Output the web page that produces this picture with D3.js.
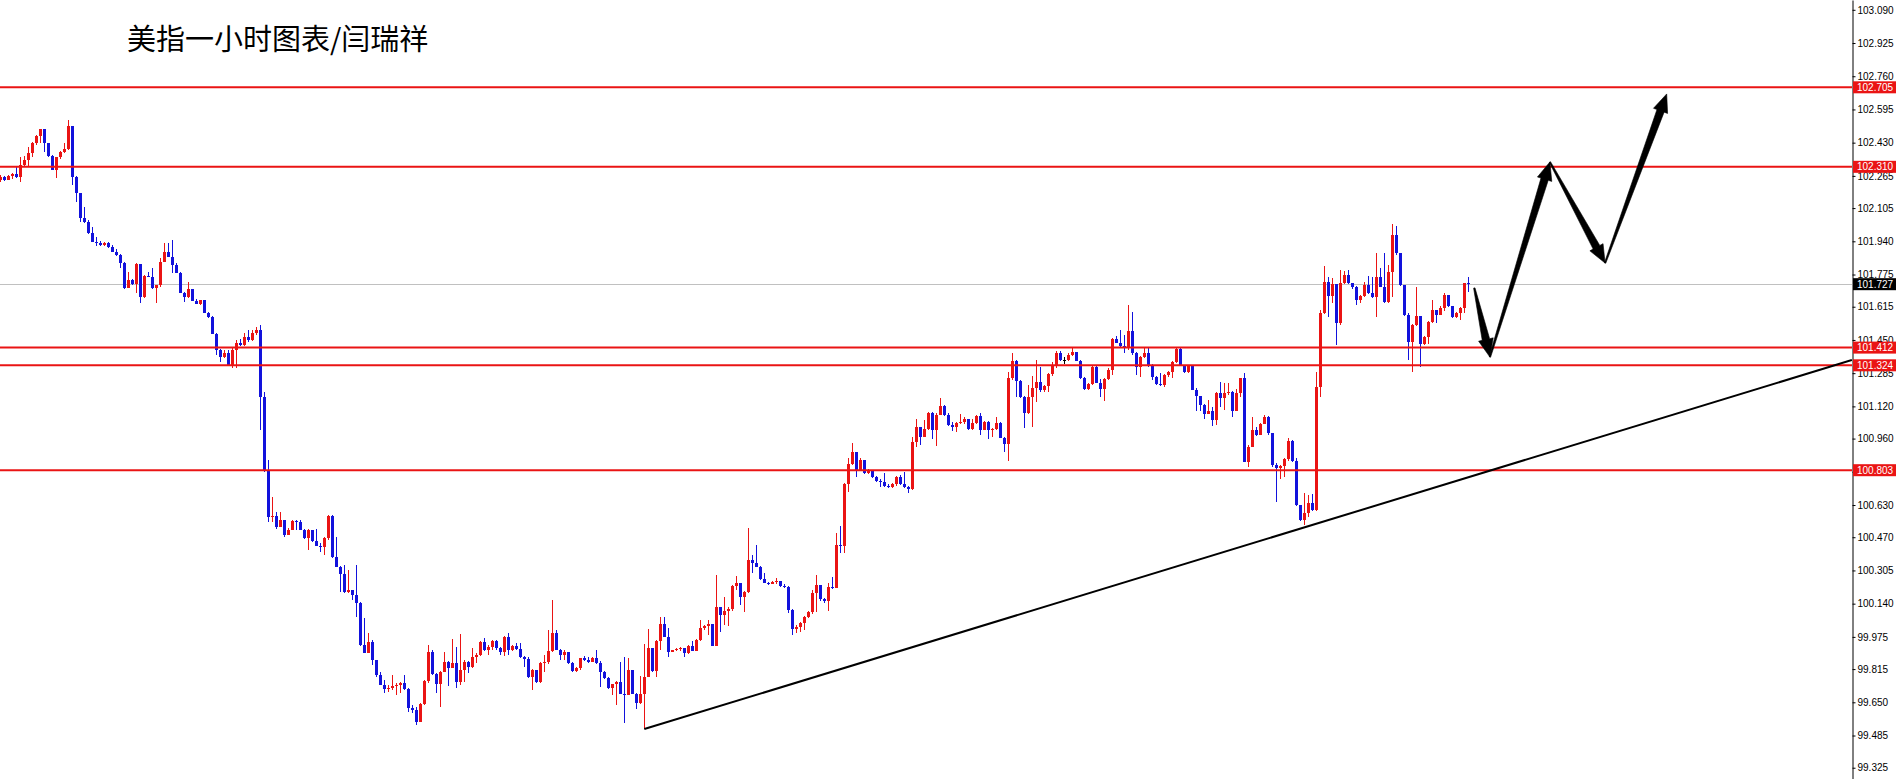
<!DOCTYPE html>
<html><head><meta charset="utf-8">
<script src="https://cdn.jsdelivr.net/npm/d3@7"></script>
<style>html,body{margin:0;padding:0;background:#fff;overflow:hidden}</style>
</head><body><svg id="c" width="1899" height="779"></svg>
<script>
const title = "美指一小时图表/闫瑞祥";
const firstOpen = 102.245;
const closes = [
102.259,102.245,102.264,102.274,102.259,102.319,102.344,102.379,102.428,102.463,
102.498,102.428,102.364,102.294,102.359,102.384,102.398,102.513,102.259,102.180,
102.056,102.036,101.981,101.936,101.931,101.921,101.931,101.911,101.887,101.872,
101.832,101.708,101.748,101.728,101.827,101.663,101.767,101.762,101.708,101.723,
101.837,101.887,101.862,101.822,101.782,101.683,101.663,101.703,101.643,101.628,
101.648,101.584,101.564,101.479,101.400,101.365,101.385,101.325,101.400,101.435,
101.425,101.465,101.450,101.484,101.499,101.167,100.804,100.571,100.576,100.521,
100.556,100.481,100.506,100.551,100.546,100.506,100.466,100.506,100.451,100.426,
100.421,100.466,100.576,100.372,100.322,100.287,100.198,100.208,100.183,100.143,
99.934,99.895,99.949,99.860,99.785,99.736,99.716,99.721,99.731,99.736,
99.746,99.716,99.622,99.612,99.552,99.642,99.756,99.900,99.790,99.741,
99.800,99.850,99.820,99.845,99.751,99.810,99.850,99.825,99.875,99.885,
99.949,99.910,99.924,99.954,99.919,99.900,99.974,99.910,99.929,99.915,
99.875,99.865,99.775,99.810,99.751,99.845,99.850,99.905,99.994,99.910,
99.885,99.900,99.845,99.805,99.820,99.870,99.860,99.850,99.870,99.845,
99.800,99.771,99.721,99.741,99.751,99.691,99.686,99.810,99.691,99.646,
99.691,99.775,99.919,99.805,99.954,100.039,99.974,99.900,99.910,99.915,
99.919,99.895,99.929,99.905,99.959,100.019,100.029,100.039,99.929,100.123,
100.084,100.103,100.113,100.228,100.242,100.173,100.198,100.357,100.342,100.322,
100.262,100.242,100.237,100.247,100.252,100.228,100.223,100.108,100.014,100.024,
100.044,100.074,100.098,100.193,100.232,100.163,100.153,100.223,100.218,100.431,
100.426,100.734,100.834,100.893,100.804,100.854,100.789,100.804,100.769,100.749,
100.744,100.725,100.720,100.734,100.769,100.734,100.720,100.710,100.943,101.018,
100.968,101.008,101.087,101.003,101.077,101.122,101.077,101.027,101.018,101.037,
101.042,101.057,101.008,101.037,101.072,101.003,101.042,101.003,101.008,101.037,
100.963,100.933,101.261,101.345,101.246,101.167,101.087,101.167,101.211,101.241,
101.201,101.221,101.281,101.320,101.385,101.350,101.350,101.375,101.390,101.345,
101.261,101.206,101.231,101.316,101.236,101.206,101.256,101.301,101.455,101.435,
101.420,101.410,101.494,101.385,101.316,101.365,101.385,101.325,101.266,101.231,
101.226,101.276,101.291,101.340,101.405,101.320,101.291,101.320,101.201,101.172,
101.127,101.082,101.097,101.052,101.187,101.162,101.187,101.191,101.097,101.187,
101.261,100.844,100.918,101.003,100.978,101.032,101.067,100.988,100.829,100.814,
100.824,100.859,100.948,100.849,100.630,100.556,100.590,100.640,100.605,101.216,
101.584,101.738,101.668,101.728,101.534,101.733,101.772,101.733,101.713,101.648,
101.668,101.723,101.683,101.663,101.762,101.713,101.638,101.787,101.971,101.882,
101.723,101.574,101.440,101.524,101.569,101.430,101.465,101.539,101.599,101.574,
101.609,101.673,101.618,101.564,101.584,101.609,101.733,101.727];
const highs = [
102.269,102.264,102.269,102.279,102.309,102.359,102.364,102.408,102.433,102.468,
102.498,102.498,102.428,102.369,102.359,102.389,102.428,102.543,102.513,102.264,
102.180,102.111,102.046,102.011,101.961,101.941,101.936,101.936,101.921,101.902,
101.877,101.837,101.787,101.753,101.832,101.827,101.772,101.787,101.807,101.723,
101.857,101.931,101.931,101.946,101.832,101.787,101.688,101.738,101.703,101.653,
101.648,101.643,101.589,101.569,101.484,101.405,101.400,101.400,101.410,101.450,
101.455,101.484,101.499,101.499,101.514,101.524,101.191,100.854,100.670,100.595,
100.595,100.556,100.516,100.556,100.556,100.556,100.511,100.511,100.506,100.511,
100.441,100.471,100.581,100.581,100.471,100.327,100.332,100.307,100.208,100.332,
100.148,100.069,99.994,99.959,99.860,99.800,99.761,99.736,99.785,99.746,
99.751,99.785,99.721,99.637,99.627,99.646,99.761,99.934,99.910,99.795,
99.805,99.900,99.855,99.964,99.924,99.989,99.860,99.855,99.919,99.895,
99.954,99.969,99.934,99.959,99.959,99.924,99.979,99.994,99.934,99.944,
99.944,99.880,99.875,99.815,99.810,99.850,99.885,100.009,100.158,100.009,
99.915,99.910,99.900,99.850,99.825,99.870,99.880,99.875,99.875,99.910,
99.855,99.805,99.775,99.741,99.756,99.850,99.875,99.870,99.810,99.696,
99.780,99.939,100.014,99.919,99.959,100.074,100.074,100.019,99.910,99.919,
99.924,99.919,99.934,99.954,99.964,100.059,100.034,100.059,100.039,100.282,
100.123,100.173,100.123,100.232,100.277,100.242,100.203,100.516,100.381,100.431,
100.327,100.292,100.247,100.252,100.267,100.252,100.237,100.228,100.113,100.034,
100.049,100.079,100.103,100.208,100.282,100.232,100.168,100.242,100.272,100.491,
100.526,100.739,100.864,100.938,100.893,100.864,100.849,100.809,100.794,100.774,
100.759,100.789,100.734,100.739,100.774,100.779,100.794,100.725,100.968,101.057,
101.018,101.052,101.092,101.092,101.087,101.162,101.127,101.087,101.042,101.042,
101.082,101.067,101.042,101.057,101.077,101.087,101.047,101.047,101.013,101.067,
101.042,100.968,101.291,101.385,101.350,101.251,101.172,101.226,101.271,101.350,
101.316,101.226,101.286,101.340,101.395,101.395,101.365,101.385,101.410,101.390,
101.350,101.266,101.236,101.320,101.320,101.256,101.261,101.310,101.460,101.470,
101.499,101.474,101.623,101.589,101.390,101.370,101.410,101.410,101.330,101.271,
101.286,101.281,101.296,101.345,101.415,101.410,101.320,101.325,101.320,101.211,
101.172,101.132,101.152,101.117,101.191,101.241,101.236,101.236,101.196,101.206,
101.261,101.286,100.928,101.067,101.018,101.037,101.077,101.072,100.988,100.839,
100.829,100.864,100.963,100.953,100.864,100.630,100.690,100.680,100.685,101.291,
101.599,101.817,101.762,101.758,101.728,101.797,101.792,101.797,101.733,101.718,
101.673,101.738,101.767,101.762,101.882,101.807,101.882,101.822,102.026,102.016,
101.882,101.723,101.584,101.529,101.713,101.569,101.470,101.544,101.648,101.599,
101.618,101.683,101.673,101.618,101.589,101.613,101.733,101.762];
const lows = [
102.235,102.240,102.245,102.250,102.254,102.235,102.309,102.309,102.359,102.418,
102.428,102.384,102.359,102.294,102.254,102.349,102.379,102.394,102.220,102.135,
102.036,102.031,101.976,101.936,101.916,101.916,101.916,101.906,101.887,101.867,
101.807,101.703,101.708,101.723,101.683,101.633,101.658,101.762,101.703,101.633,
101.713,101.837,101.862,101.782,101.782,101.683,101.638,101.658,101.643,101.628,
101.623,101.584,101.559,101.479,101.375,101.340,101.360,101.320,101.310,101.310,
101.420,101.420,101.440,101.445,101.474,101.003,100.794,100.546,100.546,100.511,
100.521,100.471,100.481,100.506,100.506,100.506,100.461,100.406,100.446,100.426,
100.396,100.381,100.456,100.367,100.322,100.198,100.193,100.193,100.158,100.074,
99.929,99.895,99.895,99.835,99.775,99.736,99.696,99.701,99.711,99.686,
99.696,99.711,99.602,99.597,99.537,99.552,99.637,99.746,99.785,99.696,
99.627,99.800,99.731,99.820,99.721,99.736,99.751,99.795,99.820,99.845,
99.880,99.905,99.885,99.910,99.910,99.885,99.880,99.885,99.905,99.910,
99.870,99.825,99.771,99.711,99.746,99.746,99.800,99.840,99.900,99.910,
99.860,99.860,99.840,99.800,99.800,99.810,99.855,99.845,99.850,99.840,
99.726,99.766,99.716,99.686,99.637,99.691,99.547,99.686,99.691,99.617,
99.642,99.517,99.775,99.800,99.775,99.910,99.974,99.875,99.900,99.905,
99.905,99.875,99.890,99.905,99.905,99.954,100.009,99.984,99.929,99.929,
99.999,100.034,100.029,100.103,100.208,100.133,100.098,100.193,100.292,100.322,
100.257,100.242,100.232,100.237,100.237,100.223,100.218,100.093,99.984,99.994,
99.999,100.009,100.069,100.088,100.098,100.153,100.143,100.103,100.213,100.218,
100.391,100.391,100.695,100.829,100.769,100.804,100.784,100.784,100.764,100.744,
100.720,100.720,100.715,100.715,100.725,100.729,100.715,100.690,100.705,100.918,
100.928,100.968,101.003,100.958,100.923,101.077,101.072,101.022,100.998,100.993,
101.032,101.032,101.003,101.003,101.032,100.978,101.003,100.958,100.968,101.003,
100.963,100.893,100.849,101.251,101.167,101.162,101.013,101.082,101.018,101.142,
101.191,101.191,101.191,101.271,101.310,101.345,101.330,101.345,101.370,101.345,
101.256,101.201,101.201,101.226,101.236,101.167,101.147,101.251,101.276,101.435,
101.410,101.385,101.400,101.375,101.276,101.266,101.360,101.316,101.251,101.226,
101.221,101.216,101.266,101.261,101.335,101.320,101.286,101.286,101.201,101.097,
101.097,101.057,101.082,101.022,101.027,101.117,101.102,101.177,101.067,101.097,
101.167,100.844,100.819,100.918,100.973,100.978,101.032,100.978,100.819,100.645,
100.759,100.769,100.849,100.844,100.625,100.551,100.531,100.571,100.600,100.600,
101.167,101.579,101.564,101.633,101.425,101.524,101.728,101.728,101.703,101.623,
101.633,101.663,101.678,101.658,101.564,101.713,101.633,101.633,101.663,101.872,
101.718,101.569,101.350,101.291,101.519,101.316,101.425,101.430,101.534,101.534,
101.594,101.594,101.613,101.559,101.559,101.549,101.584,101.688];
const levels = [102.705, 102.310, 101.412, 101.324, 100.803];
const lastPrice = 101.727;
const tickValues = [103.090,102.925,102.760,102.595,102.430,102.265,102.105,101.940,101.775,101.615,101.450,101.285,101.120,100.960,100.795,100.630,100.470,100.305,100.140,99.975,99.815,99.650,99.485,99.325];
const trendLine = [[161, 99.517], [462.9, 101.350]];
const arrowPath = [[368.5,101.708],[372.4,101.365],[387.4,102.334],[401.2,101.832],[416.6,102.672]];

const W = 1899, H = 779, AXIS_X = 1852;
const RED = "#ea1414", BLUE = "#1212dc";
const FONT = "Liberation Sans, Arial, sans-serif";
const svg = d3.select("#c");
svg.append("rect").attr("width", W).attr("height", H).attr("fill", "#fff");

const x = d3.scaleLinear().domain([0, 1]).range([0.3, 4.3]);
const y = d3.scaleLinear().domain([103.1387, 99.2690]).range([0, H]);

svg.append("defs").append("clipPath").attr("id", "plot")
  .append("rect").attr("x", 0).attr("y", 0).attr("width", AXIS_X).attr("height", H);
const plot = svg.append("g").attr("clip-path", "url(#plot)");

// current price line
plot.append("line").attr("x1", 0).attr("x2", AXIS_X)
  .attr("y1", Math.round(y(lastPrice)) + 0.5).attr("y2", Math.round(y(lastPrice)) + 0.5)
  .attr("stroke", "#c0c0c0").attr("stroke-width", 1);

// candles
const data = closes.map((c, i) => ({ i, o: i === 0 ? firstOpen : closes[i - 1], c, h: highs[i], l: lows[i] }));
const color = d => d.c > d.o ? RED : (d.c < d.o ? BLUE : "#000");
const cg = plot.append("g").attr("shape-rendering", "crispEdges");
cg.selectAll("rect.w").data(data).join("rect").attr("class", "w")
  .attr("x", d => Math.round(x(d.i)))
  .attr("width", 1)
  .attr("y", d => Math.round(y(Math.max(d.h, d.o, d.c))))
  .attr("height", d => Math.max(1, Math.round(y(Math.min(d.l, d.o, d.c))) - Math.round(y(Math.max(d.h, d.o, d.c)))))
  .attr("fill", color);
cg.selectAll("rect.b").data(data).join("rect").attr("class", "b")
  .attr("x", d => Math.round(x(d.i)) - 1)
  .attr("width", 3)
  .attr("y", d => Math.round(y(Math.max(d.o, d.c))))
  .attr("height", d => Math.max(1, Math.round(y(Math.min(d.o, d.c))) - Math.round(y(Math.max(d.o, d.c)))))
  .attr("fill", color);

// horizontal levels
plot.selectAll("line.lv").data(levels).join("line").attr("class", "lv")
  .attr("x1", 0).attr("x2", AXIS_X)
  .attr("y1", d => y(d)).attr("y2", d => y(d))
  .attr("stroke", RED).attr("stroke-width", 2);

// trend line
plot.append("line")
  .attr("x1", x(trendLine[0][0])).attr("y1", y(trendLine[0][1]))
  .attr("x2", x(trendLine[1][0])).attr("y2", y(trendLine[1][1]))
  .attr("stroke", "#000").attr("stroke-width", 2);

// arrows (tapered shafts with heads)
for (let k = 0; k < arrowPath.length - 1; k++) {
  const sx = x(arrowPath[k][0]), sy = y(arrowPath[k][1]);
  const tx = x(arrowPath[k + 1][0]), ty = y(arrowPath[k + 1][1]);
  const len = Math.hypot(tx - sx, ty - sy);
  const ux = (tx - sx) / len, uy = (ty - sy) / len;
  const nx = -uy, ny = ux;
  const hl = 18, hw = 7.5, sw0 = 0.7, sw1 = 3.8;
  const bx = tx - ux * hl, by = ty - uy * hl;
  const pts = [
    [sx + nx * sw0, sy + ny * sw0], [bx + nx * sw1, by + ny * sw1], [bx + nx * hw, by + ny * hw],
    [tx, ty],
    [bx - nx * hw, by - ny * hw], [bx - nx * sw1, by - ny * sw1], [sx - nx * sw0, sy - ny * sw0]
  ];
  plot.append("path").attr("d", d3.line()(pts) + "Z").attr("fill", "#000").attr("stroke", "#000").attr("stroke-width", 0.6);
}

// right axis
const axis = d3.axisRight(y).tickValues(tickValues).tickFormat(d3.format(".3f")).tickSize(3).tickSizeOuter(0).tickPadding(2);
const ag = svg.append("g").attr("transform", `translate(${AXIS_X + 0.5},0)`).call(axis);
ag.select(".domain").attr("stroke", "#000");
ag.selectAll(".tick line").attr("stroke", "#000");
ag.selectAll(".tick text").attr("fill", "#000").style("font-family", FONT).style("font-size", "10px");

// price boxes
const boxes = levels.map(v => ({ v, fill: RED })).concat([{ v: lastPrice, fill: "#000" }]);
const bg = svg.append("g");
bg.selectAll("rect").data(boxes).join("rect")
  .attr("x", AXIS_X + 1).attr("width", 43)
  .attr("y", d => y(d.v) - 6).attr("height", 12)
  .attr("fill", d => d.fill);
bg.selectAll("text").data(boxes).join("text")
  .attr("x", AXIS_X + 5).attr("y", d => y(d.v)).attr("dy", "0.34em")
  .attr("fill", "#fff")
  .style("font-family", FONT).style("font-size", "10px")
  .text(d => d3.format(".3f")(d.v));

// title
svg.append("text").attr("x", 127).attr("y", 50)
  .style("font-family", "Noto Sans CJK SC, sans-serif").style("font-size", "29px")
  .attr("fill", "#000").text(title);
</script></body></html>
